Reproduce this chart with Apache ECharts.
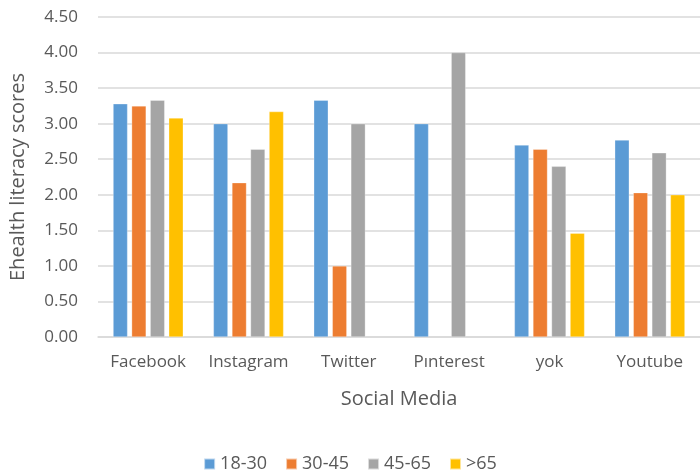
<!DOCTYPE html>
<html>
<head>
<meta charset="utf-8">
<script src="https://cdn.jsdelivr.net/npm/echarts@6/dist/echarts.min.js"></script>
<style>
  html, body { margin: 0; padding: 0; background: #fff; }
  #chart { width: 700px; height: 471px; }
</style>
</head>
<body>
<div id="chart"></div>
<script>
// categories and series
var platforms = ['Facebook', 'Instagram', 'Twitter', 'P\u0131nterest', 'yok', 'Youtube'];
var age18to30 = [3.28, 3.00, 3.33, 3.00, 2.70, 2.77];
var age30to45 = [3.25, 2.17, 1.00, null, 2.64, 2.03];
var age45to65 = [3.33, 2.64, 3.00, 4.00, 2.40, 2.59];
var ageOver65 = [3.08, 3.17, null, null, 1.46, 2.00];

var txt = '#595959';
var fnt = '"Open Sans", "Noto Sans", sans-serif';

function bar(name, data, color) {
    return {
        name: name,
        type: 'bar',
        data: data,
        barWidth: 14.5,
        barGap: '28%',
        itemStyle: { color: color, borderColor: 'rgba(255,255,255,0.6)', borderWidth: 0.5 }
    };
}

var chart = echarts.init(document.getElementById('chart'));
chart.setOption({
    animation: false,
    textStyle: { fontFamily: fnt },
    grid: { left: 94, top: 17, width: 614, height: 320 },
    legend: {
        top: 450,
        left: 'center',
        itemWidth: 11,
        itemHeight: 11,
        itemGap: 18,
        icon: 'rect',
        textStyle: { color: txt, fontSize: 18, fontFamily: fnt },
        data: ['18-30', '30-45', '45-65', '>65']
    },
    xAxis: {
        type: 'category',
        data: platforms,
        name: 'Social Media',
        nameLocation: 'middle',
        nameGap: 52,
        nameTextStyle: { color: txt, fontSize: 20 },
        axisLine: { lineStyle: { color: '#d9d9d9', width: 1.5 } },
        axisTick: { show: false },
        axisLabel: { color: txt, fontSize: 17, margin: 17, interval: 0, hideOverlap: false }
    },
    yAxis: {
        type: 'value',
        min: 0,
        max: 4.5,
        interval: 0.5,
        name: 'Ehealth literacy scores',
        nameLocation: 'middle',
        nameGap: 70,
        nameTextStyle: { color: txt, fontSize: 20 },
        axisLine: { show: false },
        axisTick: { show: false },
        axisLabel: {
            color: txt, fontSize: 17, margin: 20,
            formatter: function (v) { return v.toFixed(2); }
        },
        splitLine: { lineStyle: { color: '#d9d9d9', width: 1.5 } }
    },
    series: [
        bar('18-30', age18to30, '#5B9BD5'),
        bar('30-45', age30to45, '#ED7D31'),
        bar('45-65', age45to65, '#A5A5A5'),
        bar('>65', ageOver65, '#FFC000')
    ]
});
</script>
</body>
</html>
